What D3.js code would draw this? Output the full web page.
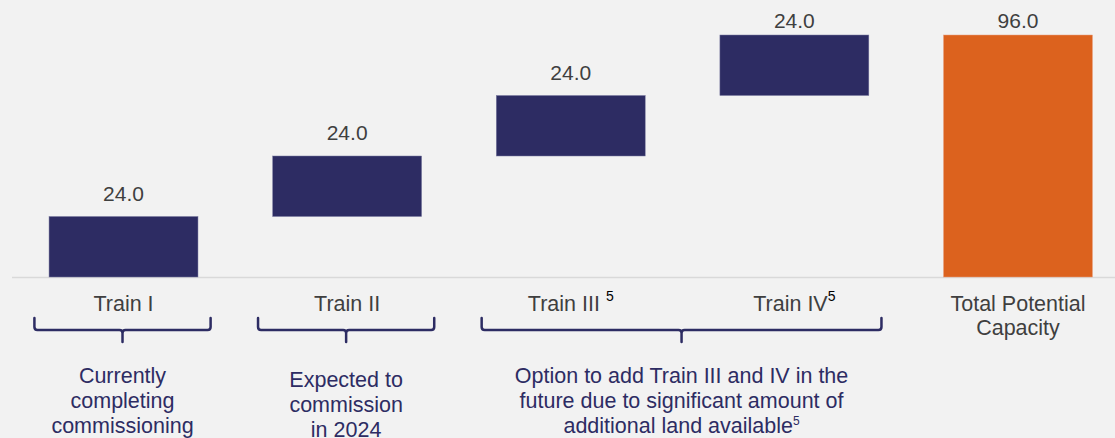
<!DOCTYPE html>
<html>
<head>
<meta charset="utf-8">
<script src="https://cdn.jsdelivr.net/npm/d3@7"></script>
<style>
  html, body { margin: 0; padding: 0; background: #f2f2f2; }
  svg { display: block; font-family: 'Liberation Sans', Arial, sans-serif; }
</style>
</head>
<body>
<svg id="chart"></svg>
<script>
const categories = ['Train I', 'Train II', 'Train III', 'Train IV', 'Total Potential Capacity'];
const values = [24.0, 24.0, 24.0, 24.0, 96.0];
const isTotal = [false, false, false, false, true];
const footnotes = ['', '', '5', '5', ''];
const labelLines = [['Train I'], ['Train II'], ['Train III '], ['Train IV'], ['Total Potential', 'Capacity']];

// brackets under the axis labels
const groupFrom = [0, 1, 2];
const groupTo = [0, 1, 3];
const groupText = [
  ['Currently', 'completing', 'commissioning'],
  ['Expected to', 'commission', 'in 2024'],
  ['Option to add Train III and IV in the', 'future due to significant amount of', 'additional land available']
];
const groupNote = ['', '', '5'];

const width = 1115;
const height = 438;
const baseY = 277;
const topY = 35;

const navy = '#2d2c63';
const orange = '#dc621e';
const grey = '#3f3f3f';

const svg = d3.select('#chart')
  .attr('width', width)
  .attr('height', height);

svg.append('rect')
  .attr('width', width)
  .attr('height', height)
  .attr('fill', '#f2f2f2');

const xScale = d3.scaleBand()
  .domain(categories)
  .range([11.7, 1129.8])
  .paddingInner(0.334)
  .paddingOuter(0.167);

const yScale = d3.scaleLinear()
  .domain([0, 96])
  .range([baseY, topY]);

// waterfall: each step starts where the previous ended, totals start at 0
let running = 0;
const rows = categories.map((c, i) => {
  const start = isTotal[i] ? 0 : running;
  const end = isTotal[i] ? values[i] : running + values[i];
  if (!isTotal[i]) running = end;
  return { cat: c, value: values[i], start, end, total: isTotal[i] };
});

svg.append('line')
  .attr('x1', 12)
  .attr('x2', width)
  .attr('y1', baseY + 0.5)
  .attr('y2', baseY + 0.5)
  .attr('stroke', '#d9d9d9')
  .attr('stroke-width', 1.5);

svg.selectAll('.bar')
  .data(rows)
  .enter().append('rect')
  .attr('class', 'bar')
  .attr('x', d => xScale(d.cat))
  .attr('y', d => yScale(d.end))
  .attr('width', xScale.bandwidth())
  .attr('height', d => yScale(d.start) - yScale(d.end))
  .attr('fill', d => (d.total ? orange : navy))
  .attr('stroke', d => (d.total ? '#e8a080' : '#7a7aa0'))
  .attr('stroke-width', 0.5);

svg.selectAll('.val')
  .data(rows)
  .enter().append('text')
  .attr('class', 'val')
  .attr('x', d => xScale(d.cat) + xScale.bandwidth() / 2)
  .attr('y', d => Math.max(yScale(d.end) - 16, 28))
  .attr('text-anchor', 'middle')
  .attr('font-size', 21)
  .attr('fill', grey)
  .text(d => d3.format('.1f')(d.value));

// category axis
const xAxis = d3.axisBottom(xScale).tickSize(0).tickPadding(0);
const axisG = svg.append('g')
  .attr('transform', `translate(0, ${baseY})`)
  .call(xAxis);
axisG.select('.domain').remove();
axisG.selectAll('.tick text').each(function (d, i) {
  const t = d3.select(this)
    .text(null)
    .attr('y', 34)
    .attr('dy', null)
    .attr('font-size', 21.5)
    .attr('font-family', 'Liberation Sans, Arial, sans-serif')
    .attr('fill', grey);
  labelLines[i].forEach((line, j) => {
    t.append('tspan')
      .attr('x', 0)
      .attr('dy', j === 0 ? 0 : 24)
      .text(line);
  });
  if (footnotes[i]) {
    t.append('tspan')
      .attr('dy', -10)
      .attr('font-size', 14)
      .attr('fill', '#000')
      .text(footnotes[i]);
  }
});

// brackets
const half = xScale.step() * 0.385;
const bracketTop = 318;
const bracketY = 330;
const bracketTip = 342;

groupFrom.forEach((f, g) => {
  const x0 = xScale(categories[f]) + xScale.bandwidth() / 2 - half - 3;
  const x1 = xScale(categories[groupTo[g]]) + xScale.bandwidth() / 2 + half + 1;
  const xm = (x0 + x1) / 2;
  const r = 3;
  const path = d3.path();
  path.moveTo(x0, bracketTop);
  path.lineTo(x0, bracketY - r);
  path.quadraticCurveTo(x0, bracketY, x0 + r, bracketY);
  path.lineTo(xm - r, bracketY);
  path.quadraticCurveTo(xm, bracketY, xm, bracketY + r);
  path.lineTo(xm, bracketTip);
  path.moveTo(xm, bracketY + r);
  path.quadraticCurveTo(xm, bracketY, xm + r, bracketY);
  path.lineTo(x1 - r, bracketY);
  path.quadraticCurveTo(x1, bracketY, x1, bracketY - r);
  path.lineTo(x1, bracketTop);

  svg.append('path')
    .attr('d', path.toString())
    .attr('fill', 'none')
    .attr('stroke', navy)
    .attr('stroke-width', 2.5)
    .attr('stroke-linecap', 'round')
    .attr('stroke-linejoin', 'round');

  const txt = svg.append('text')
    .attr('x', xm)
    .attr('y', g === 1 ? 387 : 383)
    .attr('text-anchor', 'middle')
    .attr('font-size', 21.5)
    .attr('fill', navy);
  groupText[g].forEach((line, j) => {
    txt.append('tspan')
      .attr('x', xm)
      .attr('dy', j === 0 ? 0 : 25)
      .text(line);
    if (j === groupText[g].length - 1 && groupNote[g]) {
      txt.append('tspan')
        .attr('dy', -8)
        .attr('font-size', 12)
        .text(groupNote[g]);
    }
  });
});
</script>
</body>
</html>
